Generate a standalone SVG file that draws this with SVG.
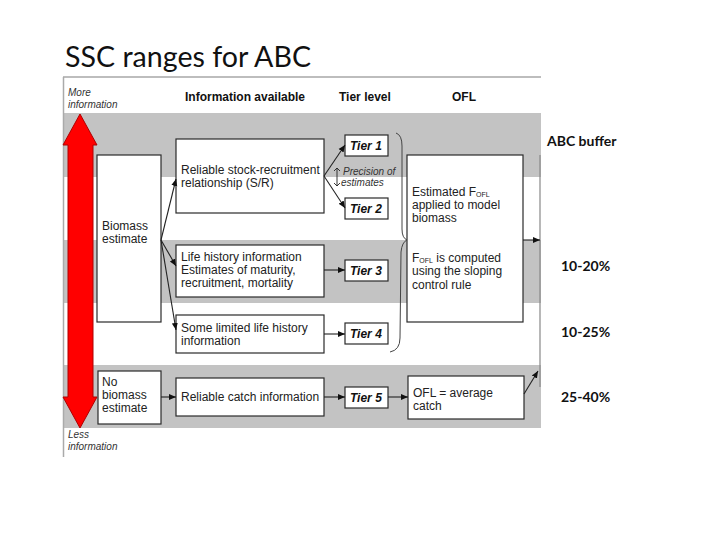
<svg xmlns="http://www.w3.org/2000/svg" width="720" height="540" viewBox="0 0 720 540">
<style>
.band{fill:#c3c3c3}
.box{fill:#fff;stroke:#2a2a2a;stroke-width:1.2}
.t{font-family:"Liberation Sans",Arial,sans-serif;font-size:12px;fill:#222}
.hd{font-family:"Liberation Sans",Arial,sans-serif;font-size:12px;font-weight:bold;fill:#111}
.tier{font-family:"Liberation Sans",Arial,sans-serif;font-size:12px;font-weight:bold;font-style:italic;fill:#111}
.it{font-family:"Liberation Sans",Arial,sans-serif;font-size:10px;font-style:italic;fill:#333}
.buf{font-family:Lato,"Open Sans",sans-serif;font-size:14px;font-weight:bold;fill:#111}
.sub{font-size:7px}
.c{fill:none;stroke:#222;stroke-width:1.1}
</style>
<defs>
<marker id="ah" markerWidth="8" markerHeight="8" refX="7" refY="4" orient="auto" markerUnits="userSpaceOnUse">
<path d="M0,1 L7,4 L0,7 Z" fill="#111"/>
</marker>
</defs>
<rect width="720" height="540" fill="#fff"/>
<text x="65" y="67" font-family="Lato,'Open Sans',sans-serif" font-size="28" fill="#111" textLength="246" lengthAdjust="spacingAndGlyphs">SSC ranges for ABC</text>
<g id="frame">
<rect class="band" x="64" y="113" width="477" height="64"/>
<rect class="band" x="64" y="240" width="477" height="63"/>
<rect class="band" x="64" y="365" width="477" height="63"/>
<line x1="63" y1="77" x2="541" y2="77" stroke="#bdbdbd" stroke-width="2"/>
<line x1="63.5" y1="77" x2="63.5" y2="457" stroke="#aaa" stroke-width="1.5"/>
<line x1="540" y1="155" x2="540" y2="387" stroke="#888" stroke-width="1.2"/>
</g>
<g id="headers">
<text class="it" x="68" y="96">More</text>
<text class="it" x="68" y="108">information</text>
<text class="hd" x="185" y="101">Information available</text>
<text class="hd" x="339" y="101">Tier level</text>
<text class="hd" x="452" y="101">OFL</text>
<text class="it" x="68" y="438">Less</text>
<text class="it" x="68" y="450">information</text>
</g>
<g id="info-arrow">
<path d="M80,114 L97,145 L93,145 L93,397 L97,397 L80,428 L63,397 L68,397 L68,145 L63,145 Z" fill="#ff0000" stroke="#b00000" stroke-width="1"/>
</g>
<g id="biomass">
<rect class="box" x="97" y="155" width="64" height="167"/>
<text class="t" x="102" y="230">Biomass</text>
<text class="t" x="102" y="243">estimate</text>
</g>
<g id="no-biomass">
<rect class="box" x="98" y="371" width="63" height="53"/>
<text class="t" x="102" y="386">No</text>
<text class="t" x="102" y="399">biomass</text>
<text class="t" x="102" y="412">estimate</text>
</g>
<g id="stock-recruitment">
<rect class="box" x="176" y="139" width="148" height="74"/>
<text class="t" x="181" y="174">Reliable stock-recruitment</text>
<text class="t" x="181" y="187">relationship (S/R)</text>
</g>
<g id="life-history">
<rect class="box" x="176" y="245" width="148" height="52"/>
<text class="t" x="181" y="261">Life history information</text>
<text class="t" x="181" y="274">Estimates of maturity,</text>
<text class="t" x="181" y="287">recruitment, mortality</text>
</g>
<g id="limited">
<rect class="box" x="176" y="315" width="148" height="38"/>
<text class="t" x="181" y="332">Some limited life history</text>
<text class="t" x="181" y="345">information</text>
</g>
<g id="catch">
<rect class="box" x="176" y="378" width="148" height="38"/>
<text class="t" x="181" y="401">Reliable catch information</text>
</g>
<g id="tier1"><rect class="box" x="345" y="135" width="43" height="21"/><text class="tier" x="350" y="150">Tier 1</text></g>
<g id="tier2"><rect class="box" x="345" y="198" width="43" height="21"/><text class="tier" x="350" y="213">Tier 2</text></g>
<g id="tier3"><rect class="box" x="345" y="260" width="43" height="21"/><text class="tier" x="350" y="275">Tier 3</text></g>
<g id="tier4"><rect class="box" x="345" y="323" width="43" height="21"/><text class="tier" x="350" y="338">Tier 4</text></g>
<g id="tier5"><rect class="box" x="345" y="387" width="43" height="21"/><text class="tier" x="350" y="402">Tier 5</text></g>
<g id="precision">
<text class="it" x="343" y="175" font-size="9.5">Precision of</text>
<text class="it" x="341" y="186" font-size="9.5">estimates</text>
</g>
<g id="ofl-model">
<rect class="box" x="407" y="155" width="116" height="167"/>
<text class="t" x="412" y="196">Estimated F<tspan class="sub" dy="1">OFL</tspan></text>
<text class="t" x="412" y="209">applied to model</text>
<text class="t" x="412" y="222">biomass</text>
<text class="t" x="412" y="262">F<tspan class="sub" dy="1">OFL</tspan><tspan dy="-1"> is computed</tspan></text>
<text class="t" x="412" y="275">using the sloping</text>
<text class="t" x="412" y="289">control rule</text>
</g>
<g id="ofl-catch">
<rect class="box" x="408" y="376" width="116" height="43"/>
<text class="t" x="413" y="397">OFL = average</text>
<text class="t" x="413" y="410">catch</text>
</g>
<g id="abc-buffer">
<text class="buf" x="547" y="146">ABC buffer</text>
<text class="buf" x="561" y="271">10-20%</text>
<text class="buf" x="561" y="337">10-25%</text>
<text class="buf" x="561" y="402">25-40%</text>
</g>
<g id="connectors">
<line class="c" x1="161" y1="240" x2="176" y2="179" marker-end="url(#ah)"/>
<line class="c" x1="161" y1="240" x2="176" y2="266" marker-end="url(#ah)"/>
<line class="c" x1="161" y1="240" x2="176" y2="330" marker-end="url(#ah)"/>
<line class="c" x1="161" y1="397" x2="176" y2="397" marker-end="url(#ah)"/>
<line class="c" x1="324" y1="176" x2="345" y2="145" marker-end="url(#ah)"/>
<line class="c" x1="324" y1="176" x2="345" y2="208" marker-end="url(#ah)"/>
<line class="c" x1="324" y1="270" x2="345" y2="270" marker-end="url(#ah)"/>
<line class="c" x1="324" y1="334" x2="345" y2="334" marker-end="url(#ah)"/>
<line class="c" x1="324" y1="397" x2="345" y2="397" marker-end="url(#ah)"/>
<line class="c" x1="388" y1="397" x2="408" y2="397" marker-end="url(#ah)"/>
<line class="c" x1="523" y1="240" x2="540" y2="240" marker-end="url(#ah)"/>
<line class="c" x1="524" y1="394" x2="538" y2="371" marker-end="url(#ah)"/>
<path d="M337,168 L337,186 M334,171 L337,168 L340,171 M334,183 L337,186 L340,183" fill="none" stroke="#222" stroke-width="0.9"/>
<path d="M396,133 Q402,135 402,146 L402,229 Q402,238 407,240 Q402,242 401,252 L400,338 Q400,350 390,352" fill="none" stroke="#444" stroke-width="1"/>
</g>
</svg>
